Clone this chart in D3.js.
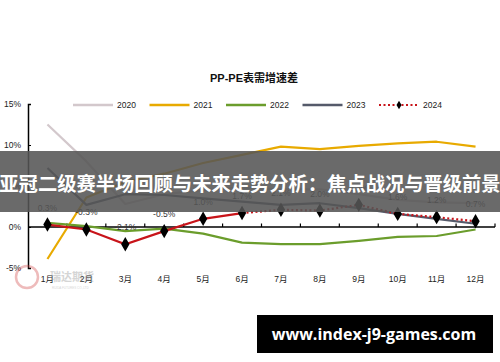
<!DOCTYPE html>
<html>
<head>
<meta charset="utf-8">
<script src="https://cdn.jsdelivr.net/npm/d3@7"></script>
<style>
  body { margin: 0; background: #fff; }
  svg { display: block; font-family: "Liberation Sans", "Noto Sans CJK SC", sans-serif; }
</style>
</head>
<body>
<script>
// chart data
var months = ["1月","2月","3月","4月","5月","6月","7月","8月","9月","10月","11月","12月"];
var years = ["2020","2021","2022","2023","2024"];
var s2020 = [12.5, 8.0, 2.8, 4.0, 4.5, 4.8, 4.6, 4.6, 4.0, 3.3, 3.0, 2.9];
var s2021 = [-3.9, 3.6, 5.5, 6.5, 7.8, 8.8, 9.8, 9.5, 9.9, 10.2, 10.4, 9.8];
var s2022 = [0.5, 0.1, -0.5, -0.2, -0.8, -1.9, -2.1, -2.1, -1.7, -1.2, -1.1, -0.3];
var s2023 = [7.2, 2.7, 4.0, 3.9, 3.5, 3.1, 2.7, 2.9, 2.3, 1.6, 1.0, 0.4];
var s2024 = [0.3, -0.3, -2.1, -0.5, 1.0, 1.7, 2.1, 2.0, 2.7, 1.6, 1.2, 0.7];
var yTicks = [-5, 0, 5, 10, 15];
var title = "PP-PE表需增速差";
var banner = "亚冠二级赛半场回顾与未来走势分析：焦点战况与晋级前景";
var site = "www.index-j9-games.com";

var w = 500, h = 362;
var colors = {"2020": "#d3c8cc", "2021": "#e8aa00", "2022": "#6b9d2c", "2023": "#555a6a", "2024": "#c8141a"};

var svg = d3.select("body").append("svg")
  .attr("width", w)
  .attr("height", h);

var x = d3.scaleBand().domain(months).range([28, 495]);
var y = d3.scaleLinear().domain([-5, 15]).range([268, 104]);
var cx = function(m) { return x(m) + x.bandwidth() / 2; };

// title
svg.append("text")
  .attr("x", 254).attr("y", 82)
  .attr("text-anchor", "middle")
  .attr("font-size", "11px")
  .attr("font-weight", "bold")
  .attr("fill", "#111")
  .text(title);

// y axis
svg.append("g")
  .attr("transform", "translate(28,0)")
  .call(d3.axisRight(y).tickValues(yTicks).tickSize(3).tickFormat(""))
  .call(function(g) { g.select(".domain").attr("stroke", "#000").attr("stroke-width", 1.5); });

svg.selectAll(".ylab")
  .data(yTicks)
  .enter()
  .append("text")
  .attr("x", 21)
  .attr("y", function(d) { return y(d) + 3; })
  .attr("text-anchor", "end")
  .attr("font-size", "8.5px")
  .attr("fill", "#222")
  .text(function(d) { return d + "%"; });

// x axis at zero, ticks on band boundaries pointing up
var xa = svg.append("g").attr("transform", "translate(0," + y(0) + ")");
xa.append("line")
  .attr("x1", 28).attr("x2", 495)
  .attr("stroke", "#000").attr("stroke-width", 1.5);
xa.selectAll(".tk")
  .data(months.slice(1).concat(["end"]))
  .enter()
  .append("line")
  .attr("x1", function(d, i) { return x(months[0]) + (i + 1) * x.step(); })
  .attr("x2", function(d, i) { return x(months[0]) + (i + 1) * x.step(); })
  .attr("y1", 0).attr("y2", -3.5)
  .attr("stroke", "#000").attr("stroke-width", 1.2);

svg.selectAll(".xlab")
  .data(months)
  .enter()
  .append("text")
  .attr("x", cx)
  .attr("y", 282)
  .attr("text-anchor", "middle")
  .attr("font-size", "8.5px")
  .attr("fill", "#222")
  .text(function(d) { return d; });

// faint logo watermark
var logo = svg.append("g").attr("opacity", 0.35);
logo.append("circle").attr("cx", 27).attr("cy", 277).attr("r", 11)
  .attr("fill", "none").attr("stroke", "#d04040").attr("stroke-width", 2.5);
logo.append("text").attr("x", 50).attr("y", 281)
  .attr("font-size", "11px").attr("font-weight", "bold").attr("fill", "#888")
  .text("瑞达期货");
logo.append("text").attr("x", 52).attr("y", 289)
  .attr("font-size", "3px").attr("fill", "#888")
  .text("RUIDA FUTURES CO.,LTD");

var line = d3.line()
  .x(function(d, i) { return cx(months[i]); })
  .y(function(d) { return y(d); });

var series = [
  {name: "2020", values: s2020},
  {name: "2021", values: s2021},
  {name: "2022", values: s2022},
  {name: "2023", values: s2023}
];

svg.selectAll(".series")
  .data(series)
  .enter()
  .append("path")
  .attr("d", function(d) { return line(d.values); })
  .attr("fill", "none")
  .attr("stroke", function(d) { return colors[d.name]; })
  .attr("stroke-width", 2.2)
  .attr("stroke-linejoin", "round");

// 2024: solid first half, dotted after June
var line24 = d3.line()
  .x(function(d) { return cx(months[d.i]); })
  .y(function(d) { return y(d.v); });
var pts24 = s2024.map(function(v, i) { return {i: i, v: v}; });

svg.append("path")
  .attr("d", line24(pts24.slice(0, 6)))
  .attr("fill", "none")
  .attr("stroke", colors["2024"])
  .attr("stroke-width", 2.2);
svg.append("path")
  .attr("d", line24(pts24.slice(5)))
  .attr("fill", "none")
  .attr("stroke", colors["2024"])
  .attr("stroke-width", 2.2)
  .attr("stroke-dasharray", "2,2.5");

var diamond = d3.symbol().type(d3.symbolDiamond).size(60);
svg.selectAll(".mk")
  .data(pts24)
  .enter()
  .append("path")
  .attr("d", diamond)
  .attr("transform", function(d) { return "translate(" + cx(months[d.i]) + "," + y(d.v) + ")"; })
  .attr("fill", "#000");

svg.selectAll(".vlab")
  .data(pts24)
  .enter()
  .append("text")
  .attr("x", function(d) { return cx(months[d.i]); })
  .attr("y", function(d) { return y(d.v) - 14; })
  .attr("text-anchor", "middle")
  .attr("font-size", "8.5px")
  .attr("fill", "#333")
  .text(function(d) { return d.v.toFixed(1) + "%"; });

// legend
var leg = svg.selectAll(".leg")
  .data(years)
  .enter()
  .append("g")
  .attr("transform", function(d, i) { return "translate(" + (73 + i * 76.5) + ",105)"; });

leg.append("line")
  .attr("x1", 0).attr("x2", 40)
  .attr("stroke", function(d) { return colors[d]; })
  .attr("stroke-width", function(d) { return d === "2024" ? 2 : 2.6; })
  .attr("stroke-dasharray", function(d) { return d === "2024" ? "2,2.5" : null; });
leg.filter(function(d) { return d === "2024"; })
  .append("path")
  .attr("d", d3.symbol().type(d3.symbolDiamond).size(22))
  .attr("transform", "translate(20,0)")
  .attr("fill", "#000");
leg.append("text")
  .attr("x", 44).attr("y", 3)
  .attr("font-size", "8.5px")
  .attr("fill", "#222")
  .text(function(d) { return d; });

// banner overlay
svg.append("rect")
  .attr("x", 0).attr("y", 151)
  .attr("width", w).attr("height", 61)
  .attr("fill", "#555")
  .attr("opacity", 0.88);
svg.append("text")
  .attr("x", 250).attr("y", 191)
  .attr("text-anchor", "middle")
  .attr("font-family", "Noto Sans CJK SC")
  .attr("font-size", "19.3px")
  .attr("font-weight", "bold")
  .attr("fill", "#fff")
  .text(banner);

// site box
svg.append("rect")
  .attr("x", 257).attr("y", 315)
  .attr("width", 236).attr("height", 38)
  .attr("fill", "#000");
svg.append("text")
  .attr("x", 374).attr("y", 340)
  .attr("text-anchor", "middle")
  .attr("font-family", "Open Sans")
  .attr("font-size", "16px")
  .attr("font-weight", "bold")
  .attr("fill", "#fff")
  .text(site);
</script>
</body>
</html>
